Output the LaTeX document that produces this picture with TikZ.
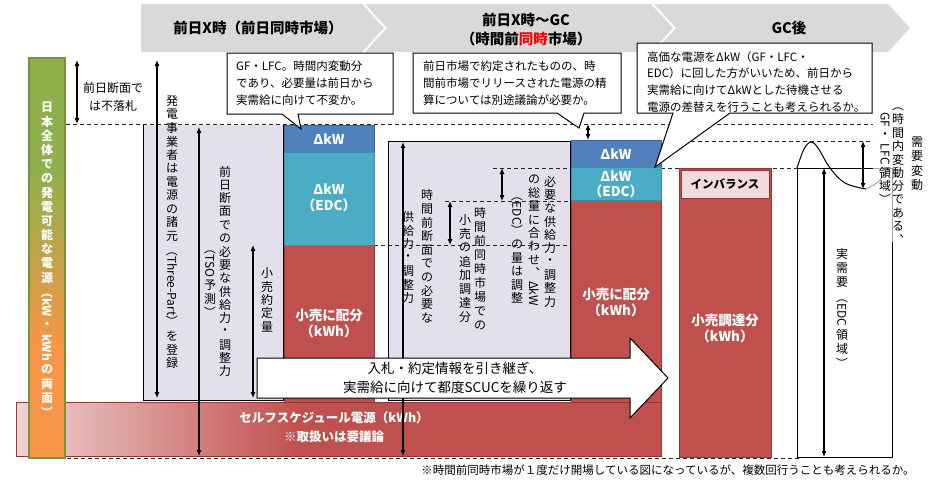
\documentclass[tikz,border=0pt]{standalone}
\usepackage{fontspec}
\setmainfont{Noto Sans CJK JP}
\usepackage{graphicx}
\usetikzlibrary{arrows.meta}
\makeatletter
\newdimen\vt@pitch
\def\vt@stop{\vt@stop@}
\def\vt@stopm{\vt@stop}
\newcommand\vtext[2][13.5pt]{\vt@pitch=#1\relax\vbox{\offinterlineskip\vt@loop#2\vt@stop}}
\def\vt@loop#1{\def\vt@tmp{#1}\ifx\vt@tmp\vt@stopm\else\vt@item{#1}\expandafter\vt@loop\fi}
\def\vt@item#1{\setbox\z@\hbox{#1}\dimen@\ht\z@\advance\dimen@\dp\z@\ifdim\dimen@>\vt@pitch\advance\dimen@ 3pt\else\dimen@\vt@pitch\fi\hbox to 1.05em{\hss\vbox to\dimen@{\vss\box\z@\vss}\hss}}
\makeatother
\newcommand\rt[1]{\rotatebox[origin=c]{-90}{#1}}
\definecolor{hdr}{HTML}{D9D9D9}
\definecolor{dkwblue}{HTML}{4F81BD}
\definecolor{dkwblueb}{HTML}{3A6396}
\definecolor{edcteal}{HTML}{4BACC6}
\definecolor{edctealb}{HTML}{3A8EA5}
\definecolor{rred}{HTML}{C0504D}
\definecolor{rredb}{HTML}{943634}
\definecolor{lav}{HTML}{E4DFEC}
\definecolor{impink}{HTML}{F2DCDB}
\definecolor{bandl}{HTML}{EFD3D2}
\definecolor{barg}{HTML}{8FB04C}
\definecolor{baro}{HTML}{F79646}
\definecolor{barb}{HTML}{77933C}
\begin{document}
\begin{tikzpicture}[x=1pt,y=-1pt,
  hdrtxt/.style={font=\bfseries\fontsize{14.5}{19}\selectfont, align=center, inner sep=0},
  dkw/.style={fill=dkwblue, draw=dkwblueb, line width=1pt},
  edc/.style={fill=edcteal, draw=edctealb, line width=1pt},
  redcol/.style={fill=rred, draw=rredb, line width=1pt},
  lavbox/.style={fill=lav, draw=black, line width=1pt},
  dsh/.style={draw=black!85, line width=0.8pt, dash pattern=on 4pt off 3pt},
  dbl/.style={{Latex[length=6pt,width=5pt]}-{Latex[length=6pt,width=5pt]}, line width=1.1pt},
  call/.style={fill=white, draw=black, line width=1pt},
  ctext/.style={anchor=north west, inner sep=0, align=left, font=\fontsize{11.5}{16.8}\selectfont},
  vt/.style={anchor=north, inner sep=0, font=\fontsize{12}{14}\selectfont},
  wlab/.style={text=white, font=\bfseries\fontsize{13.5}{16}\selectfont, align=center, inner sep=0},
  blab/.style={text=black, font=\bfseries\fontsize{11.5}{14}\selectfont, inner sep=0},
  fn/.style={font=\fontsize{11.5}{14}\selectfont, inner sep=0}]
\useasboundingbox (0,0) rectangle (931,482);
\fill[white] (0,0) rectangle (931,482);
% header
\fill[hdr] (141,4) -- (362,4) -- (384,28) -- (362,52) -- (141,52) -- cycle;
\fill[hdr] (365,4) -- (651,4) -- (673,28) -- (651,52) -- (365,52) -- (387,28) -- cycle;
\fill[hdr] (654,4) -- (888,4) -- (910,28) -- (888,52) -- (654,52) -- (676,28) -- cycle;
\node[hdrtxt] (h1) at (258,28) {前日X時（前日同時市場）};
\node[hdrtxt] (h2) at (526,30) {前日X時～GC\\（時間前{\color{red}同時}市場）};
\node[hdrtxt] (h3) at (789,28) {GC後};
% self-schedule band
\shade[left color=bandl, right color=rred] (16,402) rectangle (300,456);
\fill[rred] (300,402) rectangle (661,456);
\draw[draw=rredb, line width=1pt] (16,402) rectangle (661,456);
\node[wlab, font=\bfseries\fontsize{12.5}{19}\selectfont] (ss) at (334,427) {セルフスケジュール電源（kWh）\\※取扱いは要議論};
% lavender boxes
\fill[lav] (143,125) rectangle (283,400);
\draw[line width=1pt] (143,125) -- (143,400) -- (283,400) -- (283,125);
\draw[lavbox] (388,141) rectangle (570,400);
% dashed guide lines
\draw[dsh] (66,124) -- (873,124);
\draw[dsh] (663,141) -- (873,141);
\draw[dsh] (493,168) -- (797,168);
\draw[dsh] (445,201) -- (571,201);
\draw[dsh] (374,245) -- (571,245);
\draw[dsh] (60,458) -- (800,458);
% column 1
\draw[redcol] (284,245) rectangle (374,402);
\draw[dkw] (284,125) rectangle (374,152);
\draw[edc] (284,152) rectangle (374,245);
% column 2
\draw[redcol] (571,200) rectangle (661,402);
\draw[dkw] (571,140) rectangle (661,167);
\draw[edc] (571,167) rectangle (661,200);
% column 3
\draw[redcol] (679,168) rectangle (771,457);
\draw[fill=impink, draw=rredb, line width=0.8pt] (681,170) rectangle (769,198);
% actual demand box
\fill[white] (797,168) rectangle (892,457);
\draw[line width=1pt] (873,168) -- (797,168) -- (797,457) -- (892,457) -- (892,242);
\draw[line width=1pt, black!35] (873,168) -- (892,168) -- (892,242);
\draw[line width=1pt] plot[smooth, tension=0.6] coordinates {(797,168) (804,149) (811,142) (818,148) (830,168) (845,183) (866,189)};
\draw[line width=1pt, black!35] plot[smooth, tension=0.6] coordinates {(866,189) (878,182) (890,168)};
% labels in columns
\node[wlab] (c1a) at (329,139) {ΔkW};
\node[wlab] (c1b) at (329,198) {ΔkW\\（EDC）};
\node[wlab] (c1c) at (329,323) {小売に配分\\（kWh）};
\node[wlab] (c2a) at (616,154) {ΔkW};
\node[wlab, font=\bfseries\fontsize{13.5}{15}\selectfont] (c2b) at (616,184) {ΔkW\\（EDC）};
\node[wlab] (c2c) at (616,302) {小売に配分\\（kWh）};
\node[blab] (c3a) at (725,184) {インバランス};
\node[wlab] (c3b) at (725,328) {小売調達分\\（kWh）};
% vertical texts
\node[vt] (t1) at (172,94) {\vtext{発電事業者は電源の諸元{\rt{（Three-Part）}}を登録}};
\node[vt] (t2) at (225,165) {\vtext[13.3pt]{前日断面での必要な供給力・調整力}};
\node[vt] (t3) at (210,241) {\vtext{{\rt{（TSO}}予測{\rt{）}}}};
\node[vt] (t4) at (267,266) {\vtext{小売約定量}};
\node[vt] (t5) at (427,188) {\vtext[13.7pt]{時間前断面での必要な}};
\node[vt] (t6) at (408,210) {\vtext{供給力・調整力}};
\node[vt] (t7) at (480,206) {\vtext[14pt]{時間前同時市場での}};
\node[vt] (t8) at (465,213) {\vtext[13.8pt]{小売の追加調達分}};
\node[vt] (t9) at (550,175) {\vtext[13.3pt]{必要な供給力・調整力}};
\node[vt] (t10) at (534,173) {\vtext[13.3pt]{の総量に合わせ︑{\rt{ΔkW}}}};
\node[vt] (t11) at (517,188) {\vtext[13.3pt]{{\rt{（EDC）}}の量は調整}};
\node[vt] (t12) at (842,246) {\vtext[14.5pt]{実需要{\rt{（EDC}}領域{\rt{）}}}};
\node[vt] (t13) at (917,135) {\vtext[14.3pt]{需要変動}};
\node[vt] (t14) at (898,99) {\vtext[13.4pt]{{\rt{（}}時間内変動分である︑}};
\node[vt] (t15) at (885,111) {\vtext[13.4pt]{{\rt{GF}}・{\rt{LFC}}領域{\rt{）}}}};
\node[fn, align=center, font=\fontsize{12}{18}\selectfont] (nf) at (113,97) {前日断面で\\は不落札};
% dimension arrows
\coordinate (a0t) at (77,60);   \coordinate (a0b) at (77,124);
\coordinate (a1t) at (157,60);  \coordinate (a1b) at (157,398);
\coordinate (a2t) at (199,127); \coordinate (a2b) at (199,456);
\coordinate (a3t) at (253,245); \coordinate (a3b) at (253,398);
\coordinate (a4t) at (403,142); \coordinate (a4b) at (403,456);
\coordinate (a5t) at (450,201); \coordinate (a5b) at (450,245);
\coordinate (a6t) at (502,168); \coordinate (a6b) at (502,201);
\coordinate (a7t) at (588,124); \coordinate (a7b) at (588,140);
\coordinate (a8t) at (863,141); \coordinate (a8b) at (863,189);
\coordinate (a9t) at (824,168); \coordinate (a9b) at (824,457);
\foreach \i in {0,...,9} {\draw[dbl] (a\i t) -- (a\i b);}
% big white arrow
\draw[fill=white, line width=1pt] (257,358) -- (630,358) -- (630,338) -- (668,378) -- (630,418) -- (630,398) -- (257,398) -- cycle;
\node[align=center, inner sep=0, font=\fontsize{13.5}{19}\selectfont] (arr) at (455,378) {入札・約定情報を引き継ぎ、\\実需給に向けて都度SCUCを繰り返す};
% callouts
\draw[call] (227,53) -- (393,53) -- (393,114) -- (298,114) -- (301,129) -- (282,114) -- (227,114) -- cycle;
\node[ctext] (k1) at (236,61) {GF・LFC。時間内変動分\\であり、必要量は前日から\\実需給に向けて不変か。};
\draw[call] (413,53) -- (621,53) -- (621,113) -- (584,113) -- (579,128) -- (557,113) -- (413,113) -- cycle;
\node[ctext] (k2) at (423,61) {前日市場で約定されたものの、時\\間前市場でリリースされた電源の精\\算については別途議論が必要か。};
\draw[call] (637,43) -- (872,43) -- (872,113) -- (730,113) -- (655,167) -- (673,113) -- (637,113) -- cycle;
\node[ctext] (k3) at (647,51) {高価な電源をΔkW（GF・LFC・\\EDC）に回した方がいいため、前日から\\実需給に向けてΔkWとした待機させる\\電源の差替えを行うことも考えられるか。};
% left bar
\fill[barg] (29,58) rectangle (65,170);
\shade[top color=barg, bottom color=baro] (29,170) rectangle (65,345);
\fill[baro] (29,345) rectangle (65,458);
\draw[barb, line width=1.5pt] (29,58) rectangle (65,458);
\node[vt, text=white, font=\bfseries\fontsize{12}{14}\selectfont] (bar) at (47,100) {\vtext[14.2pt]{日本全体での発電可能な電源{\rt{（kW}}・{\rt{kWh}}の両面{\rt{）}}}};
% footnote
\node[fn] (foot) at (668,470) {※時間前同時市場が１度だけ開場している図になっているが、複数回行うことも考えられるか。};
\end{tikzpicture}
\end{document}
